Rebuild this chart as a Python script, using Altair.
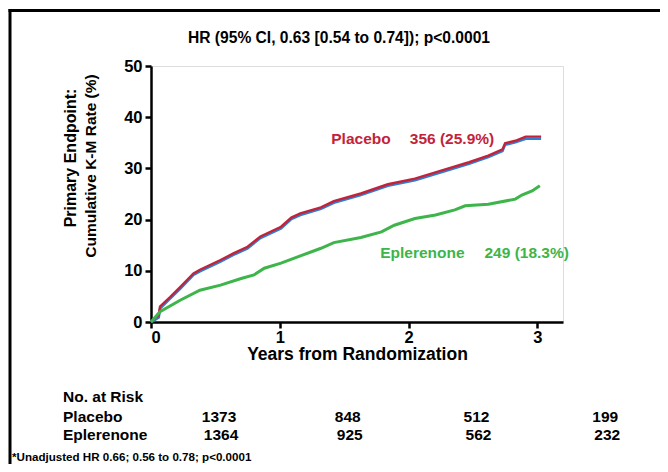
import altair as alt
import pandas as pd

FONT = "Liberation Sans, Arial, Helvetica, sans-serif"

# Kaplan-Meier curves (years, cumulative %)
placebo_t = [0, 0.03, 0.06, 0.07, 0.15, 0.23, 0.33, 0.38, 0.54, 0.64, 0.75, 0.85, 1.01, 1.09, 1.16, 1.32, 1.42, 1.63, 1.84, 2.05, 2.26, 2.47, 2.62, 2.73, 2.75, 2.83, 2.91, 3.03]
placebo_v = [0, 0.8, 1.3, 3.0, 4.9, 6.9, 9.5, 10.2, 12.1, 13.4, 14.7, 16.7, 18.6, 20.4, 21.2, 22.4, 23.6, 25.1, 26.9, 28.0, 29.6, 31.2, 32.5, 33.7, 34.9, 35.4, 36.2, 36.2]
blue_v = [0, 0.4, 0.9, 2.6, 4.6, 6.6, 9.2, 9.9, 11.8, 13.1, 14.4, 16.4, 18.3, 20.1, 20.9, 22.1, 23.3, 24.8, 26.6, 27.7, 29.3, 30.9, 32.2, 33.4, 34.6, 35.1, 35.8, 35.8]
eplerenone_t = [0, 0.07, 0.23, 0.38, 0.54, 0.70, 0.80, 0.88, 1.01, 1.16, 1.32, 1.42, 1.63, 1.79, 1.89, 2.05, 2.21, 2.36, 2.44, 2.62, 2.83, 2.88, 2.96, 3.02]
eplerenone_v = [0, 2.0, 4.3, 6.2, 7.2, 8.5, 9.2, 10.5, 11.5, 12.9, 14.4, 15.5, 16.5, 17.6, 18.9, 20.2, 20.9, 21.9, 22.7, 23.0, 24.0, 24.8, 25.6, 26.6]

# Number at risk
risk_years = [0, 1, 2, 3]
risk_placebo = [1373, 848, 512, 199]
risk_eplerenone = [1364, 925, 562, 232]

RED = "#c3233a"
BLUE = "#2f7fd1"
GREEN = "#3db54a"

df_red = pd.DataFrame({"t": placebo_t, "v": placebo_v})
df_blue = pd.DataFrame({"t": placebo_t, "v": blue_v})
df_green = pd.DataFrame({"t": eplerenone_t, "v": eplerenone_v})

xs = alt.Scale(domain=[0, 3.2], nice=False)
ys = alt.Scale(domain=[0, 50], nice=False)

axis_common = dict(
    labelFont=FONT, labelFontSize=16.5, labelFontWeight="bold", labelColor="black",
    domainColor="black", domainWidth=2.5, tickColor="black", tickWidth=2.5, tickSize=6,
    grid=False, titleFont=FONT, titleColor="black",
)

x_enc = alt.X("t:Q", scale=xs, axis=alt.Axis(values=[0, 1, 2, 3], format="d",
                                              title="Years from Randomization",
                                              titleFontSize=17.5, titleFontWeight="bold",
                                              titlePadding=0, labelPadding=1, **axis_common))
y_enc = alt.Y("v:Q", scale=ys, axis=alt.Axis(values=[0, 10, 20, 30, 40, 50], title=None,
                                              labelPadding=3, **axis_common))

blue = alt.Chart(df_blue).mark_line(color=BLUE, strokeWidth=2.6).encode(x=x_enc, y=y_enc)
red = alt.Chart(df_red).mark_line(color=RED, strokeWidth=2.4).encode(x="t:Q", y="v:Q")
green = alt.Chart(df_green).mark_line(color=GREEN, strokeWidth=3).encode(x="t:Q", y="v:Q")

# series labels positioned in data space
lab = pd.DataFrame({
    "t": [1.40, 2.01, 1.78, 2.59],
    "v": [35.7, 35.7, 13.5, 13.5],
    "txt": ["Placebo", "356 (25.9%)", "Eplerenone", "249 (18.3%)"],
    "c": [RED, RED, GREEN, GREEN],
})
labels = alt.Chart(lab).mark_text(font=FONT, fontSize=15.5, fontWeight="bold", align="left",
                                  baseline="middle").encode(
    x="t:Q", y="v:Q", text="txt:N", color=alt.Color("c:N", scale=None))

# number-at-risk table
risk_df = pd.DataFrame({"t": risk_years, "n": [str(n) for n in risk_placebo]})
risk_df2 = pd.DataFrame({"t": risk_years, "n": [str(n) for n in risk_eplerenone]})
risk1 = alt.Chart(risk_df).mark_text(font=FONT, fontSize=15.5, fontWeight="bold", dx=68,
                                     baseline="middle").encode(
    x="t:Q", y=alt.value(351), text="n:N")
risk2 = alt.Chart(risk_df2).mark_text(font=FONT, fontSize=15.5, fontWeight="bold", dx=70,
                                      baseline="middle").encode(
    x="t:Q", y=alt.value(369), text="n:N")

def txt(s, x, y, size, align="left", angle=0, color="black"):
    return alt.Chart(pd.DataFrame({"s": [s]})).mark_text(
        font=FONT, fontSize=size, fontWeight="bold", align=align, baseline="middle",
        angle=angle, color=color).encode(x=alt.value(x), y=alt.value(y), text="s:N")

texts = [
    txt("HR (95% CI, 0.63 [0.54 to 0.74]); p<0.0001", 188, -28, 15.6, align="center"),
    txt("Primary Endpoint:", -80, 92, 16, align="center", angle=270),
    txt("Cumulative K-M Rate (%)", -60, 100, 15.5, align="center", angle=270),
    txt("No. at Risk", -88, 331, 15.5),
    txt("Placebo", -88, 351, 15.5),
    txt("Eplerenone", -88, 369, 15.5),
    txt("*Unadjusted HR 0.66; 0.56 to 0.78; p<0.0001", -139, 392, 11.6),
]

border_left = alt.Chart(pd.DataFrame({"a": [0]})).mark_rule(color="black", strokeWidth=3).encode(
    x=alt.value(-141), y=alt.value(-57), y2=alt.value(420))
border_top = alt.Chart(pd.DataFrame({"a": [0]})).mark_rule(color="black", strokeWidth=3).encode(
    x=alt.value(-142.5), x2=alt.value(520), y=alt.value(-55.5))

chart = alt.layer(blue, red, green, labels, risk1, risk2, *texts, border_left, border_top).properties(
    width=412, height=256,
    autosize=alt.AutoSizeParams(type="none"),
    padding={"left": 143, "top": 58, "right": 97, "bottom": 142},
).configure_view(stroke=None).configure(background="white")

chart.save("out.html", embed_options={"renderer": "svg", "actions": False})
